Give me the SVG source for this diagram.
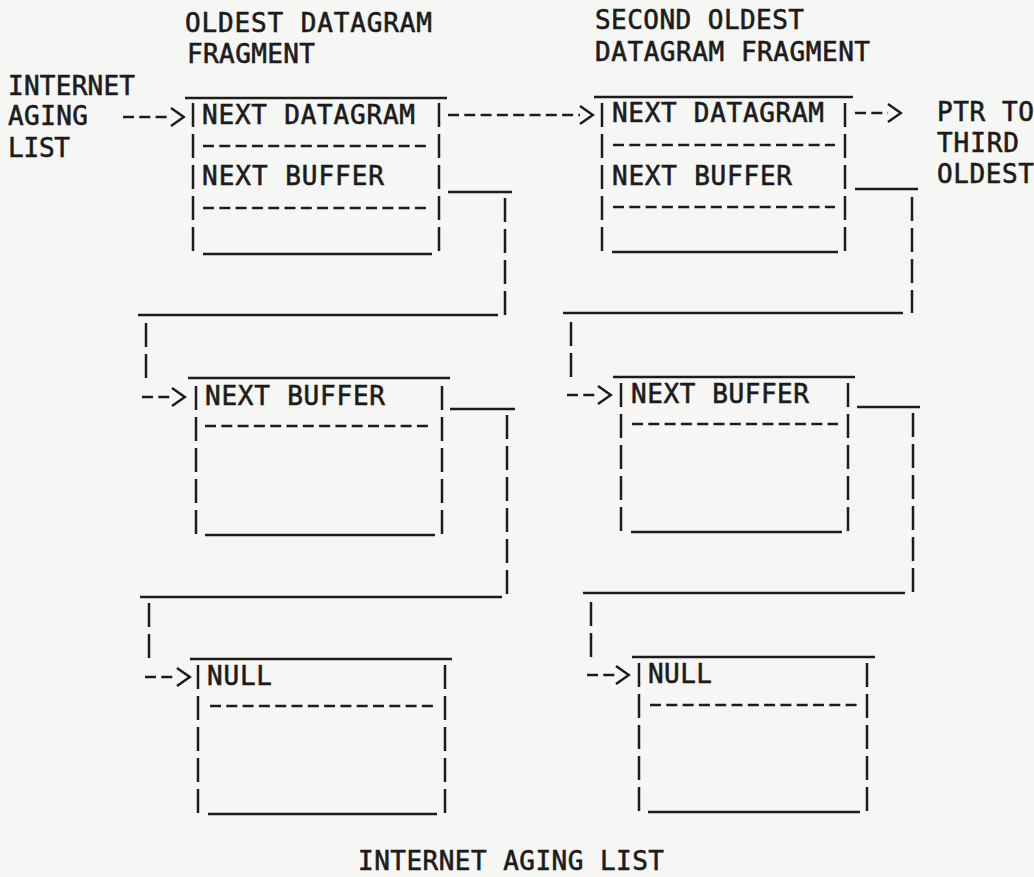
<svg xmlns="http://www.w3.org/2000/svg" width="1034" height="877" viewBox="0 0 1034 877">
<defs>
<style>
text{font-family:"DejaVu Sans Mono","Liberation Mono",monospace;font-size:26px;fill:#1c1c1c;stroke:#1c1c1c;stroke-width:0.6;}
.s{stroke:#1c1c1c;stroke-width:2.3;fill:none;}
.v{stroke:#1c1c1c;stroke-width:2.5;fill:none;stroke-dasharray:24 7;}
.d{stroke:#1c1c1c;stroke-width:2.3;fill:none;stroke-dasharray:11 5.3;}
</style>
<marker id="chev" markerUnits="userSpaceOnUse" markerWidth="16" markerHeight="22" viewBox="-1 -10 15 20" refX="0" refY="0" orient="auto" overflow="visible">
<path d="M0,-8.5 L12,0 L0,8.5" fill="none" stroke="#1c1c1c" stroke-width="2.3"/>
</marker>
</defs>
<rect width="1034" height="877" fill="#f6f6f4"/>

<g id="labels">
<text x="185" y="32" textLength="247">OLDEST DATAGRAM</text>
<text x="187" y="63" textLength="128">FRAGMENT</text>
<text x="8" y="95" textLength="127">INTERNET</text>
<text x="8" y="125" textLength="80">AGING</text>
<text x="8" y="157" textLength="62">LIST</text>
<text x="595" y="29" textLength="209">SECOND OLDEST</text>
<text x="595" y="61" textLength="275">DATAGRAM FRAGMENT</text>
<text x="937" y="121" textLength="97">PTR TO</text>
<text x="937" y="152" textLength="82">THIRD</text>
<text x="937" y="183" textLength="97">OLDEST</text>
<text x="358" y="870" textLength="306">INTERNET AGING LIST</text>
</g>

<g id="frag1-header">
<line class="s" x1="185" y1="98" x2="447" y2="98"/>
<line class="v" x1="193" y1="103" x2="193" y2="257"/>
<line class="v" x1="439" y1="103" x2="439" y2="257"/>
<text x="202" y="124" textLength="213">NEXT DATAGRAM</text>
<line class="d" x1="203" y1="146" x2="430" y2="146"/>
<text x="202" y="185" textLength="182">NEXT BUFFER</text>
<line class="d" x1="203" y1="208" x2="430" y2="208"/>
<line class="s" x1="203" y1="254" x2="432" y2="254"/>
</g>

<g id="frag1-buffer2">
<line class="s" x1="188" y1="378" x2="450" y2="378"/>
<line class="v" x1="196" y1="386" x2="196" y2="537"/>
<line class="v" x1="442" y1="386" x2="442" y2="537"/>
<text x="205" y="405" textLength="180">NEXT BUFFER</text>
<line class="d" x1="205" y1="426" x2="432" y2="426"/>
<line class="s" x1="205" y1="535" x2="435" y2="535"/>
</g>

<g id="frag1-null">
<line class="s" x1="190" y1="659" x2="452" y2="659"/>
<line class="v" x1="198" y1="665" x2="198" y2="815"/>
<line class="v" x1="445" y1="665" x2="445" y2="815"/>
<text x="207" y="685" textLength="65">NULL</text>
<line class="d" x1="210" y1="706" x2="433" y2="706"/>
<line class="s" x1="208" y1="814" x2="437" y2="814"/>
</g>

<g id="frag2-header">
<line class="s" x1="594" y1="97" x2="853" y2="97"/>
<line class="v" x1="602" y1="103" x2="602" y2="253"/>
<line class="v" x1="845" y1="103" x2="845" y2="253"/>
<text x="612" y="122" textLength="212">NEXT DATAGRAM</text>
<line class="d" x1="613" y1="145" x2="835" y2="145"/>
<text x="612" y="185" textLength="180">NEXT BUFFER</text>
<line class="d" x1="613" y1="207" x2="835" y2="207"/>
<line class="s" x1="612" y1="252" x2="838" y2="252"/>
</g>

<g id="frag2-buffer2">
<line class="s" x1="613" y1="377" x2="855" y2="377"/>
<line class="v" x1="621" y1="383" x2="621" y2="533"/>
<line class="v" x1="848" y1="383" x2="848" y2="533"/>
<text x="631" y="403" textLength="178">NEXT BUFFER</text>
<line class="d" x1="632" y1="424" x2="838" y2="424"/>
<line class="s" x1="631" y1="532" x2="842" y2="532"/>
</g>

<g id="frag2-null">
<line class="s" x1="632" y1="657" x2="875" y2="657"/>
<line class="v" x1="639" y1="663" x2="639" y2="813"/>
<line class="v" x1="867" y1="663" x2="867" y2="813"/>
<text x="648" y="683" textLength="64">NULL</text>
<line class="d" x1="650" y1="705" x2="857" y2="705"/>
<line class="s" x1="648" y1="812" x2="860" y2="812"/>
</g>

<g id="connectors">
<line class="d" x1="123" y1="117" x2="171" y2="117" marker-end="url(#chev)"/>
<line class="d" x1="448" y1="115" x2="580" y2="115" marker-end="url(#chev)"/>
<line class="d" x1="855" y1="113" x2="888" y2="113" marker-end="url(#chev)"/>

<line class="s" x1="448" y1="192" x2="512" y2="192"/>
<line class="v" x1="505" y1="198" x2="505" y2="315"/>
<line class="s" x1="138" y1="315" x2="498" y2="315"/>
<line class="v" x1="146" y1="323" x2="146" y2="380"/>
<line class="d" x1="142" y1="397" x2="172" y2="397" marker-end="url(#chev)"/>

<line class="s" x1="450" y1="409" x2="515" y2="409"/>
<line class="v" x1="507" y1="415" x2="507" y2="597"/>
<line class="s" x1="140" y1="597" x2="502" y2="597"/>
<line class="v" x1="149" y1="603" x2="149" y2="660"/>
<line class="d" x1="145" y1="677" x2="177" y2="677" marker-end="url(#chev)"/>

<line class="s" x1="855" y1="189" x2="918" y2="189"/>
<line class="v" x1="912" y1="197" x2="912" y2="313"/>
<line class="s" x1="563" y1="313" x2="903" y2="313"/>
<line class="v" x1="571" y1="322" x2="571" y2="378"/>
<line class="d" x1="567" y1="395" x2="598" y2="395" marker-end="url(#chev)"/>

<line class="s" x1="857" y1="407" x2="920" y2="407"/>
<line class="v" x1="913" y1="413" x2="913" y2="593"/>
<line class="s" x1="583" y1="593" x2="905" y2="593"/>
<line class="v" x1="591" y1="602" x2="591" y2="658"/>
<line class="d" x1="587" y1="675" x2="616" y2="675" marker-end="url(#chev)"/>
</g>
</svg>
